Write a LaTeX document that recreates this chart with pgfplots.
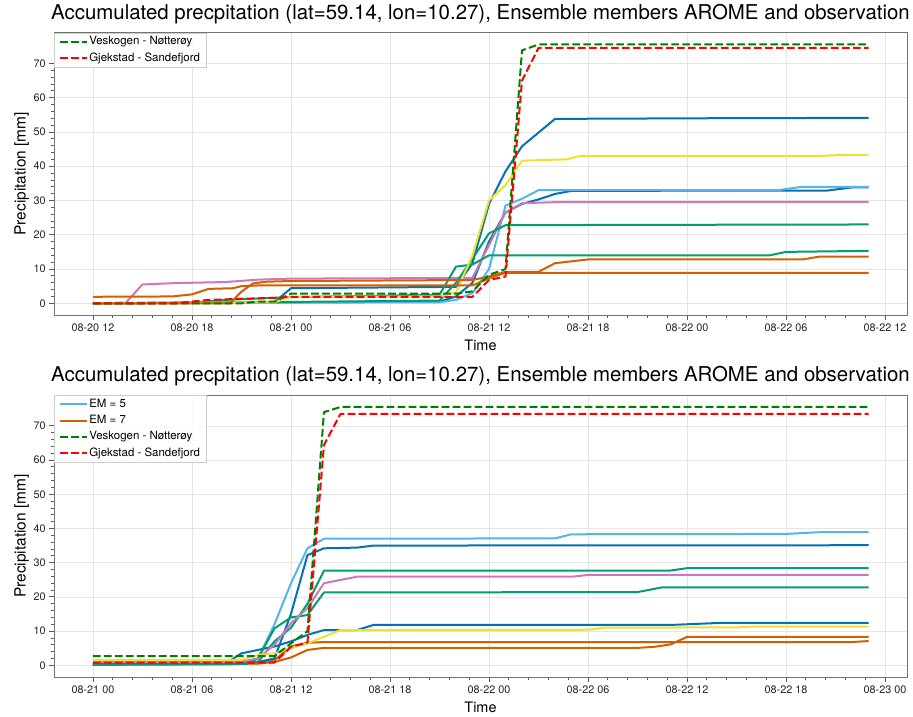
\documentclass[border=0pt]{standalone}
\usepackage{pgfplots}
\pgfplotsset{compat=1.18}
\usepackage{fontspec}
\setmainfont{TeX Gyre Heros}

\definecolor{cbBlue}{HTML}{0173B2}
\definecolor{cbOrange}{HTML}{D55E00}
\definecolor{cbTeal}{HTML}{029E73}
\definecolor{cbPink}{HTML}{CC78BC}
\definecolor{cbYellow}{HTML}{ECE133}
\definecolor{cbSky}{HTML}{56B4E9}
\definecolor{obsGreen}{HTML}{008000}
\definecolor{obsRed}{HTML}{FF0000}

\tikzset{
  member/.style={line width=2bp, line join=round},
  obs/.style={line width=2bp, line join=round, dash pattern=on 7.7bp off 3.3bp},
}

\pgfplotsset{
  precipaxis/.style={
    scale only axis, width=853bp, anchor=north west,
    ymin=-3.5, ymax=79, ytick={0,10,...,70},
    minor x tick num=4, minor y tick num=4,
    tick align=outside, xtick pos=lower, ytick pos=left,
    major tick length=4.7bp, minor tick length=2.7bp,
    tick style={black!65, line width=0.8bp},
    axis line style={black!55, line width=0.8bp},
    grid=major, major grid style={black!10, line width=0.6bp},
    ticklabel style={font=\fontsize{10.9}{12}\selectfont, text=black!85},
    /pgf/number format/assume math mode=true,
    title style={font=\fontsize{20.5}{24}\selectfont, at={(0.5,1)}, anchor=base, yshift=7.5bp},
    xlabel style={font=\fontsize{14.5}{17}\selectfont, at={(axis description cs:0.5,0)}, anchor=base, yshift=-35bp},
    ylabel style={font=\fontsize{15.5}{18}\selectfont, at={(axis description cs:-0.0334,0.5)}, anchor=base},
    xlabel={Time}, ylabel={Precipitation [mm]},
    title={Accumulated precpitation (lat=59.14, lon=10.27), Ensemble members AROME and observation},
    legend cell align=left,
    legend style={at={(0,1)}, anchor=north west, draw=black!20, line width=0.6bp,
      fill=white, fill opacity=0.8, text opacity=1, draw opacity=1,
      font=\fontsize{11.5}{13}\selectfont,
      inner xsep=4.5bp, inner ysep=3.5bp, row sep=5.6bp,
      nodes={inner xsep=1.5bp, inner ysep=0pt, text height=8.3bp, text depth=2.5bp}},
    legend image code/.code={\draw[#1] (0bp,0bp) -- (27bp,0bp);},
  },
}

\begin{document}
\begin{tikzpicture}
\useasboundingbox (0,0) rectangle (913bp,-717bp);

% ---- first forecast run: hours counted from 08-20 00 ----
\begin{axis}[precipaxis, at={(54bp,-32.5bp)}, height=282.8bp,
  xmin=9.64, xmax=61.33,
  xtick={12,18,...,60},
  xticklabels={08-20 12,08-20 18,08-21 00,08-21 06,08-21 12,08-21 18,08-22 00,08-22 06,08-22 12}]
\addplot[member, cbBlue, forget plot] coordinates {(12,0)(23,0.3)(24,4.4)(34,4.8)(35,11.7)(36,29)(37,38.5)(38,45.8)(40,53.8)(50,54)(59,54.1)};
\addplot[member, cbBlue, forget plot] coordinates {(12,0)(24,0.3)(33,0.5)(34,2)(35,6)(36,18)(37,26.5)(38,29)(39,30.3)(40,31.9)(41,32.8)(56.5,32.9)(58,33.8)(59,33.8)};
\addplot[member, cbSky, forget plot] coordinates {(12,0)(33,0.3)(34,1)(35,3)(36,10)(37,28.5)(38,30.5)(39,33)(53.5,33)(55,34)(59,34)};
\addplot[member, cbPink, forget plot] coordinates {(12,0)(14,0.2)(15,5.5)(17,5.9)(20,6.2)(22,6.9)(24,7.2)(35,7.4)(36,17)(37,26.5)(38,29.2)(40,29.5)(59,29.6)};
\addplot[member, cbTeal, forget plot] coordinates {(12,0)(18,0.2)(20,1)(24,1.8)(33,2.5)(34,10.7)(35,11.3)(36,14)(53,14)(54,15)(59,15.3)};
\addplot[member, cbTeal, forget plot] coordinates {(12,0)(24,0.4)(33,0.8)(34,6)(35,13)(36,20.4)(37,22.8)(59,23)};
\addplot[member, cbYellow, forget plot] coordinates {(12,0)(23,0.3)(24,1.9)(33,2)(34,3.2)(35,14)(36,30)(37,34.5)(38,41.6)(40.7,42)(41.5,43)(56,43)(57.5,43.3)(59,43.3)};
\addplot[member, cbOrange, forget plot] coordinates {(12,1.9)(16.8,2)(18,2.6)(19,4.2)(20.5,4.4)(21,5)(22,5.2)(35,5.2)(36,7.3)(37,8.9)(59,8.9)};
\addplot[member, cbOrange, forget plot] coordinates {(12,0)(20.3,0)(21,3.4)(21.7,5.8)(22.5,6.3)(24,6.5)(35,6.8)(36,7.8)(37,9.2)(39,9.2)(40,11.7)(42,12.8)(55,12.8)(56,13.6)(59,13.6)};
\addplot[obs, obsGreen] coordinates {(12,0)(21,0)(22,0.5)(23,0.5)(24,2.8)(34,2.8)(35,3.5)(36,8.3)(37,10)(38,73.8)(39,75.5)(59,75.5)};
\addlegendentry{Veskogen - Nøtterøy}
\addplot[obs, obsRed] coordinates {(12,0)(17,0)(19,1)(23,1.6)(24,1.9)(35,1.9)(36,6.8)(37,7.8)(38,65)(39,74.5)(59,74.5)};
\addlegendentry{Gjekstad - Sandefjord}
\end{axis}

% ---- second forecast run: hours counted from 08-21 00 ----
\begin{axis}[precipaxis, at={(54bp,-395bp)}, height=282.3bp,
  xmin=-2.36, xmax=49.33,
  xtick={0,6,...,48},
  xticklabels={08-21 00,08-21 06,08-21 12,08-21 18,08-22 00,08-22 06,08-22 12,08-22 18,08-23 00}]
\addplot[member, cbSky] coordinates {(0,0.5)(9,0.8)(10,2)(11,12)(12,24)(13,34.2)(14,37)(28,37.1)(29,38.3)(42,38.4)(44,38.9)(47,38.9)};
\addlegendentry{EM = 5}
\addplot[member, cbOrange] coordinates {(0,0.3)(10,0.5)(11,1)(12,2.3)(13,4.5)(14,5.1)(33,5.1)(34,5.4)(35,6.1)(36,8.3)(47,8.3)};
\addlegendentry{EM = 7}
\addplot[member, cbOrange, forget plot] coordinates {(0,0.3)(10,0.6)(11,1.5)(12,5.5)(13,6.6)(14,6.8)(46,6.8)(47,7.1)};
\addplot[member, cbBlue, forget plot] coordinates {(0,0.3)(9,0.4)(10,1)(11,2)(12,15)(13,32.2)(14,34.2)(16,34.4)(17,35)(47,35.1)};
\addplot[member, cbBlue, forget plot] coordinates {(0,0.3)(8,0.4)(9,3.5)(10,4.5)(11,5.5)(12,7)(13,8.9)(14,10.3)(16,10.3)(17,11.8)(35,11.8)(38,12.4)(47,12.4)};
\addplot[member, cbTeal, forget plot] coordinates {(0,0.2)(9,0.4)(10,1)(11,7)(12,11)(13,18)(14,27.7)(35,27.7)(36,28.4)(47,28.4)};
\addplot[member, cbTeal, forget plot] coordinates {(0,0.2)(9.3,0.4)(10,2)(11,10.8)(12,14)(13,14.7)(14,21.3)(33,21.4)(34.5,22.8)(47,22.8)};
\addplot[member, cbPink, forget plot] coordinates {(0,1)(9,1.1)(10,2)(11,6)(12,12.3)(13,16.7)(14,24)(16,25.9)(29,25.9)(30,26.4)(47,26.4)};
\addplot[member, cbYellow, forget plot] coordinates {(0,1.5)(9,1.6)(10,3)(11,3.5)(12,5)(13,6.4)(15,10.3)(30,10.4)(31,11)(39,11.1)(40,11.3)(47,11.3)};
\addplot[obs, obsGreen] coordinates {(0,2.7)(11,2.7)(12,6.4)(13,10)(14,74)(15,75.5)(47,75.5)};
\addlegendentry{Veskogen - Nøtterøy}
\addplot[obs, obsRed] coordinates {(0,0.8)(11,0.8)(12,5.4)(13,6.7)(14,64.4)(15,73.5)(47,73.5)};
\addlegendentry{Gjekstad - Sandefjord}
\end{axis}
\end{tikzpicture}
\end{document}
